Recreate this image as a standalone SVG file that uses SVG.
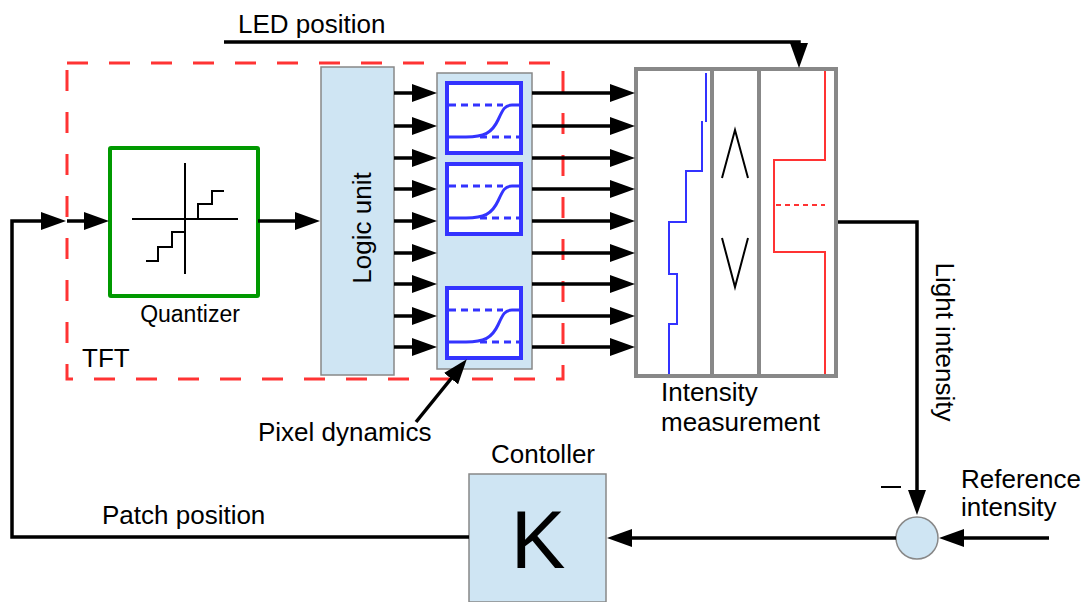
<svg xmlns="http://www.w3.org/2000/svg" width="1086" height="602" viewBox="0 0 1086 602">
<defs>
<marker id="ah" markerUnits="userSpaceOnUse" markerWidth="25" markerHeight="18" refX="15" refY="9" orient="auto">
<path d="M0,0 L25,9 L0,18 z" fill="#000"/>
</marker>
<style>
text{font-family:"Liberation Sans",Arial,sans-serif;fill:#000}
.lbl{font-size:26px}
.box{fill:#cfe5f3;stroke:#888;stroke-width:1.5}
.wire{fill:none;stroke:#000;stroke-width:3.5;marker-end:url(#ah)}
.pd{fill:#fff;stroke:#3333ff;stroke-width:4}
.pdl{fill:none;stroke:#3333ff;stroke-width:3}
.pdd{fill:none;stroke:#3333ff;stroke-width:3;stroke-dasharray:7 5}
</style>
</defs>
<rect width="1086" height="602" fill="#fff"/>

<g id="tft">
<rect x="67" y="63" width="496" height="316" fill="none" stroke="#ff3333" stroke-width="3" stroke-dasharray="21 21"/>
<text class="lbl" x="82" y="367">TFT</text>
</g>

<g id="quantizer">
<rect x="110" y="148" width="148" height="148" fill="#fff" stroke="#009900" stroke-width="4" rx="1"/>
<g fill="none" stroke="#000" stroke-width="2">
<line x1="185" y1="163" x2="185" y2="274"/>
<line x1="132" y1="219" x2="238" y2="219"/>
<polyline points="198,219 198,204 212,204 212,191 224,191"/>
<polyline points="185,232 172,232 172,247 158,247 158,261 146,261"/>
</g>
<text x="190" y="322" font-size="23" text-anchor="middle">Quantizer</text>
</g>

<g id="logic-unit">
<rect class="box" x="321" y="67" width="73" height="308"/>
<text class="lbl" transform="translate(371,228) rotate(-90)" text-anchor="middle">Logic unit</text>
</g>

<g id="pixel-dynamics">
<rect class="box" x="437" y="73" width="95" height="296"/>
<g id="pd1">
<rect class="pd" x="447" y="83" width="74" height="70"/>
<path class="pdd" d="M449,105 H503"/>
<path class="pdd" d="M480,137 H519"/>
<path class="pdl" d="M449,137 H466 C484,137 492,133 498,120 C503,109 505,105 512,105 H519"/>
</g>
<g id="pd2" transform="translate(0,81)">
<rect class="pd" x="447" y="83" width="74" height="70"/>
<path class="pdd" d="M449,105 H503"/>
<path class="pdd" d="M480,137 H519"/>
<path class="pdl" d="M449,137 H466 C484,137 492,133 498,120 C503,109 505,105 512,105 H519"/>
</g>
<g id="pd3" transform="translate(0,205)">
<rect class="pd" x="447" y="83" width="74" height="70"/>
<path class="pdd" d="M449,105 H503"/>
<path class="pdd" d="M480,137 H519"/>
<path class="pdl" d="M449,137 H466 C484,137 492,133 498,120 C503,109 505,105 512,105 H519"/>
</g>
<text class="lbl" x="258" y="441">Pixel dynamics</text>
</g>

<g id="intensity-measurement">
<rect x="636" y="69" width="200" height="307" fill="#fff" stroke="#888" stroke-width="4"/>
<line x1="712" y1="69" x2="712" y2="376" stroke="#888" stroke-width="4"/>
<line x1="759" y1="69" x2="759" y2="376" stroke="#888" stroke-width="4"/>
<g fill="none" stroke="#3333ff" stroke-width="2">
<line x1="706" y1="73" x2="706" y2="122"/>
<polyline points="702,121 702,171 686,171 686,222 669,222 669,274 677,274 677,324 669,324 669,374"/>
</g>
<g fill="none" stroke="#000" stroke-width="2">
<polyline points="722,178 735,130 748,178"/>
<polyline points="722,238 735,287 748,238"/>
</g>
<g fill="none" stroke="#ff3333" stroke-width="2">
<polyline points="825,71 825,160 774,160 774,252 825,252 825,374"/>
<line x1="776" y1="205" x2="825" y2="205" stroke-dasharray="5 4"/>
</g>
<text class="lbl" x="661" y="401">Intensity</text>
<text class="lbl" x="661" y="431">measurement</text>
</g>

<g id="summer">
<circle cx="917" cy="538" r="21" fill="#cfe5f3" stroke="#888" stroke-width="1.5"/>
<line x1="881" y1="487" x2="901" y2="487" stroke="#000" stroke-width="2"/>
</g>

<g id="controller">
<rect class="box" x="469" y="474" width="137" height="128"/>
<text x="538" y="568" font-size="82" text-anchor="middle">K</text>
<text class="lbl" x="543" y="463" text-anchor="middle">Contoller</text>
</g>

<g id="labels">
<text class="lbl" x="238" y="33">LED position</text>
<text class="lbl" x="102" y="524">Patch position</text>
<text class="lbl" transform="translate(936,342) rotate(90)" text-anchor="middle">Light intensity</text>
<text class="lbl" x="961" y="488">Reference</text>
<text class="lbl" x="961" y="516">intensity</text>
</g>

<g id="connectors">
<path class="wire" d="M224,42 H799 V58"/>
<path class="wire" d="M469,537 H12 V221 H56"/>
<path class="wire" d="M67,221 H99"/>
<path class="wire" d="M258,221 H310"/>
<g id="logic-to-pixel">
<path class="wire" d="M394,93 H427"/>
<path class="wire" d="M394,126 H427"/>
<path class="wire" d="M394,158 H427"/>
<path class="wire" d="M394,189 H427"/>
<path class="wire" d="M394,221 H427"/>
<path class="wire" d="M394,253 H427"/>
<path class="wire" d="M394,284 H427"/>
<path class="wire" d="M394,316 H427"/>
<path class="wire" d="M394,347 H427"/>
</g>
<g id="pixel-to-measure">
<path class="wire" d="M532,93 H625"/>
<path class="wire" d="M532,126 H625"/>
<path class="wire" d="M532,158 H625"/>
<path class="wire" d="M532,189 H625"/>
<path class="wire" d="M532,221 H625"/>
<path class="wire" d="M532,253 H625"/>
<path class="wire" d="M532,284 H625"/>
<path class="wire" d="M532,316 H625"/>
<path class="wire" d="M532,347 H625"/>
</g>
<path class="wire" d="M838,222 H917 V505"/>
<path class="wire" d="M1049,538 H949"/>
<path class="wire" d="M896,538 H617"/>
<path class="wire" d="M416,422 L460.5,367"/>
</g>
</svg>
